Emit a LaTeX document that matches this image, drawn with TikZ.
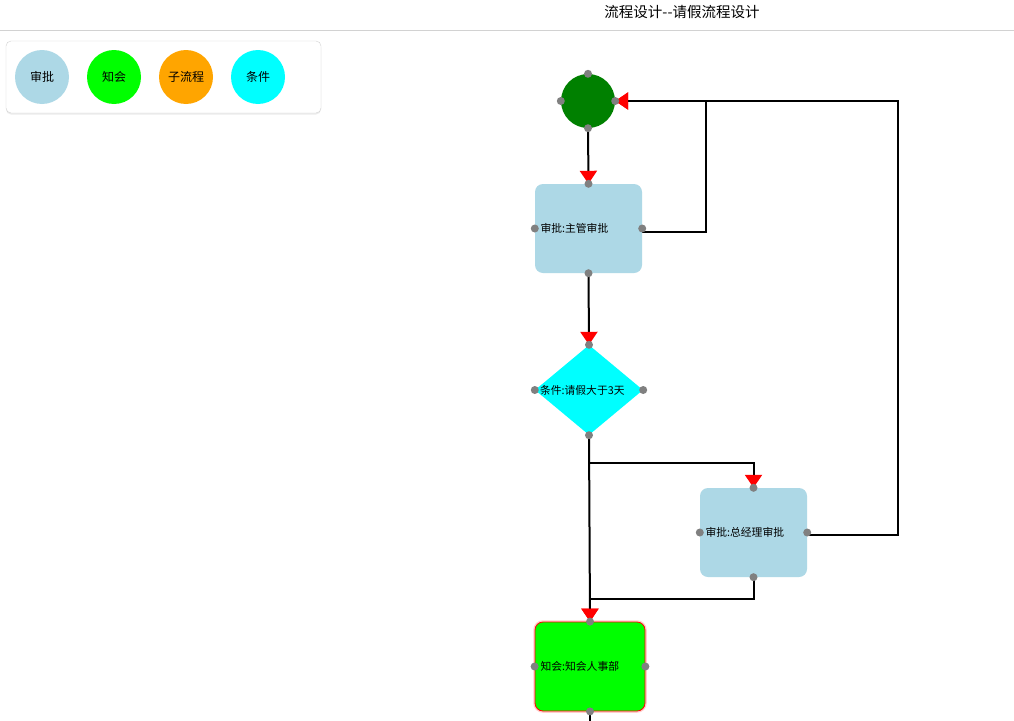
\documentclass[tikz,border=0pt]{standalone}
\usepackage{fontspec}
\newfontfamily\cjk{Noto Sans CJK SC}
\usetikzlibrary{arrows.meta,shapes.geometric,shadows}
\definecolor{approve}{HTML}{ADD8E6}
\definecolor{notify}{HTML}{00FF00}
\definecolor{subflow}{HTML}{FFA500}
\definecolor{condfill}{HTML}{00FFFF}
\definecolor{startgreen}{HTML}{008000}
\definecolor{portgray}{HTML}{808080}
\begin{document}
\begin{tikzpicture}[
			x = 1pt, y = -1pt,
			every node/.style = {font=\cjk\fontsize{10.8}{12}\selectfont},
			legenditem/.style = {circle, minimum size=54pt, inner sep=0pt, font=\cjk\fontsize{12}{14}\selectfont},
			task/.style = {rectangle, rounded corners=8pt, minimum height=89pt, inner xsep=5.5pt, inner ysep=0pt, align=left},
			flow/.style = {line width=2pt, -{Triangle[length=13pt,width=17pt,color=red]}}
			]

			\fill[white] (0,0) rectangle (1014,720);
			\useasboundingbox (0,0) rectangle (1014,720);

			% header
			\node[font=\cjk\fontsize{14.5}{16}\selectfont] (title) at (682,12) {流程设计--请假流程设计};
			\draw[gray!35, line width=1pt] (0,30) -- (1014,30);

			% legend
			\node[draw=gray!35, fill=white, rounded corners=5pt, minimum width=315pt, minimum height=72pt,
				drop shadow={opacity=0.15, shadow xshift=0pt, shadow yshift=-1.5pt}] (legend) at (163.5,77) {};
			\node[legenditem, fill=approve] (legapprove) at (42,77) {审批};
			\node[legenditem, fill=notify] (legnotify) at (114,77) {知会};
			\node[legenditem, fill=subflow] (legsub) at (186,77) {子流程};
			\node[legenditem, fill=condfill] (legcond) at (258,77) {条件};

			% flow nodes
			\node[circle, fill=startgreen, minimum size=54pt, inner sep=0pt] (start) at (588,101) {};
			\node[task, fill=approve, text width=96pt] (mgr) at (588.5,228.5) {审批:主管审批};
			\node[diamond, fill=condfill, minimum width=108pt, minimum height=90pt, inner sep=0pt] (cond) at (589,390) {};
			\node[anchor=west, inner sep=0pt] (condlabel) at ([xshift=5pt]cond.west) {条件:请假大于3天};
			\node[task, fill=approve, text width=96pt] (gm) at (753.5,532.5) {审批:总经理审批};
			\node[task, fill=notify, text width=99pt, draw=red, line width=0.8pt,
				preaction={draw=red, opacity=0.2, line width=3.5pt}] (hr) at (590,666.5) {知会:知会人事部};

			% connectors
			\draw[flow] ([yshift=-3pt]mgr.east) -- ++(64,0) |- (start.east);
			\draw[flow] ([yshift=-2pt]gm.east) -- ++(91,0) |- (start.east);
			\draw[flow] (start.south) -- (mgr.north);
			\draw[flow] (mgr.south) -- (cond.north);
			\draw[flow] (cond.south) -- ++(0,28) -| (gm.north);
			\draw[flow] (cond.south) -- (hr.north);
			\draw[flow] (gm.south) -- ++(0,22) -| (hr.north);
			\draw[line width=2pt] (hr.south) -- ++(0,12);

			% ports
			\foreach \n in {start,mgr,cond,gm,hr}
				\foreach \a in {north,south,east,west}
					\fill[portgray] (\n.\a) circle (4pt);

		\end{tikzpicture}
\end{document}
